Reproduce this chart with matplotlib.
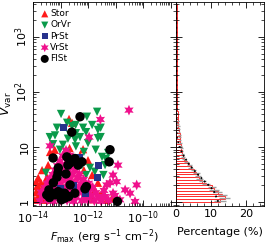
import numpy as np
import matplotlib
matplotlib.use("Agg")
import matplotlib.pyplot as plt
from matplotlib.ticker import LogLocator, MultipleLocator, NullFormatter

# scatter data, log10 values
# Stor (red triangles)
stor_lf = [-12.69, -12.67, -12.18, -13.21, -13.81, -13.88, -13.38, -12.58, -11.93, -11.75,
           -11.56, -11.82, -13.75, -13.82, -13.93, -13.60, -13.67, -13.45, -13.02, -12.84,
           -12.29, -12.00, -13.56, -13.89, -13.71, -13.49, -13.20, -11.64, -11.45, -11.31,
           -12.00, -12.36, -12.65, -12.95, -12.15, -11.85, -13.85, -13.64, -13.38, -11.13]
stor_lv = [1.51, 0.98, 0.96, 0.95, 0.44, 0.37, 0.91, 1.44, 0.31, 0.22,
           0.13, 0.05, 0.22, 0.09, 0.04, 0.31, 0.58, 0.67, 0.76, 0.91,
           0.85, 0.76, 0.04, 0.18, 0.35, 0.45, 0.55, 0.35, 0.18, 0.04,
           0.13, 0.49, 0.40, 0.31, 0.58, 0.49, 0.29, 0.13, 0.22, 0.07]

# OrVr (green down triangles)
orvr_lf = [-12.98, -12.04, -11.67, -12.45, -11.64, -11.64, -13.39, -13.20, -12.73, -12.44,
           -12.91, -12.44, -11.72, -11.54, -11.54, -11.44, -11.38, -12.76, -12.58, -12.18,
           -12.65, -12.29, -12.07, -12.47, -13.27, -11.49, -11.35, -12.22, -11.93, -11.75,
           -12.07, -11.27, -13.53, -12.80, -12.15, -13.02, -12.00, -11.85, -13.13]
orvr_lv = [1.60, 1.55, 1.64, 1.40, 1.31, 1.16, 1.18, 1.21, 1.15, 1.25,
           1.04, 1.01, 0.95, 1.35, 1.18, 0.49, 0.67, 1.44, 1.38, 1.35,
           1.22, 1.18, 1.27, 1.13, 1.05, 0.82, 0.78, 0.67, 0.62, 0.55,
           0.49, 0.89, 0.53, 0.91, 0.91, 0.95, 1.07, 1.40, 1.35]

# PrSt (navy squares)
prst_lf = [-12.88, -11.62, -11.66, -12.33, -12.55, -13.00, -12.10]
prst_lv = [1.35, 0.66, 0.45, 0.80, 0.30, 0.25, 0.15]

# VrSt (magenta stars)
vrst_lf = [-11.55, -10.51, -11.96, -13.38, -10.91, -10.96, -11.32, -10.23, -10.65, -10.47,
           -10.29, -11.45, -11.09, -11.20, -11.09, -10.84,
           -13.75, -13.48, -13.27, -12.98, -12.76, -12.52, -12.23, -12.01, -11.77, -11.52, -11.25,
           -13.66, -13.38, -13.16, -12.91, -12.63, -12.42, -12.13, -11.88, -11.63, -11.38, -11.02,
           -13.70, -13.44, -13.22, -12.93, -12.72, -12.46, -12.18, -11.97, -11.72, -11.42,
           -13.56, -13.28, -13.06, -12.78, -12.57, -12.31, -12.03, -11.83,
           -13.48, -13.23, -13.02, -12.74, -12.51, -12.26, -11.98,
           -13.41, -13.13, -12.88, -12.66, -12.38, -12.16,
           -13.28, -13.06, -12.79, -12.56, -12.32,
           -13.19, -12.96, -12.71, -12.47,
           -13.11, -12.84, -12.61,
           -13.02, -12.76, -12.52,
           -12.92, -12.66, -12.80]
vrst_lv = [1.50, 1.67, 1.18, 1.02, 0.67, 0.37, 0.31, 0.31, 0.22, 0.16,
           0.01, 0.10, 0.49, 0.35, 0.16, 0.04,
           0.02, 0.03, 0.01, 0.02, 0.03, 0.01, 0.02, 0.03, 0.02, 0.01, 0.03,
           0.10, 0.11, 0.09, 0.10, 0.11, 0.09, 0.10, 0.11, 0.09, 0.10, 0.12,
           0.18, 0.19, 0.17, 0.18, 0.19, 0.17, 0.18, 0.19, 0.17, 0.21,
           0.26, 0.27, 0.25, 0.26, 0.27, 0.25, 0.26, 0.27,
           0.34, 0.35, 0.33, 0.34, 0.35, 0.33, 0.34,
           0.42, 0.43, 0.41, 0.42, 0.43, 0.41,
           0.50, 0.51, 0.49, 0.50, 0.51,
           0.58, 0.59, 0.57, 0.58,
           0.66, 0.67, 0.65,
           0.74, 0.75, 0.73,
           0.84, 0.85, 0.94]

# FlSt (black circles)
flst_lf = [-12.29, -12.59, -11.20, -11.23, -12.22, -12.77, -12.65, -13.08, -13.26, -13.32,
           -13.50, -12.96, -12.84, -12.11, -10.93, -13.27, -12.73, -13.09, -13.09, -12.85,
           -12.97, -12.48, -12.06, -12.48, -13.20, -13.42, -12.65, -12.36, -13.13, -12.80,
           -13.40, -12.70]
flst_lv = [1.55, 1.27, 0.95, 0.73, 0.73, 0.82, 0.71, 0.62, 0.35, 0.16,
           0.13, 0.16, 0.07, 0.24, 0.01, 0.80, 0.67, 0.53, 0.19, 0.16,
           0.04, 0.16, 0.28, 0.79, 0.13, 0.22, 0.31, 0.67, 0.45, 0.51,
           0.08, 0.10]

# histogram of log Vvar, bins of 0.05 dex starting at Vvar = 1
bin_start = 0.0
bin_width = 0.05
hist_pct = [12.5, 13.8, 13.2, 11.8, 10.8, 10.2, 8.5, 7.4, 6.6, 6.2,
            5.8, 5.0, 4.2, 3.8, 3.0, 2.2, 2.0, 1.8, 1.6, 1.5,
            1.3, 1.2, 1.1, 1.0, 1.0, 0.9, 0.8, 0.7, 0.6, 0.6,
            0.5, 0.5, 0.5, 0.4, 0.4, 0.4, 0.4, 0.3, 0.3, 0.3,
            0.3, 0.3, 0.3, 0.3, 0.2, 0.3, 0.2, 0.3, 0.2, 0.3,
            0.2, 0.3, 0.2, 0.2, 0.3, 0.2, 0.2, 0.3, 0.2, 0.2,
            0.3, 0.2, 0.2, 0.2, 0.3, 0.2, 0.2, 0.2, 0.3, 0.2,
            0.2, 0.2]
hist_err = [1.6, 1.5, 1.4, 1.3, 1.3, 1.2, 1.1, 1.0, 1.0, 0.9,
            0.9, 0.8, 0.7, 0.7, 0.6, 0.5, 0.5, 0.5, 0.4, 0.4,
            0.4, 0.4, 0.3, 0.3, 0.3, 0.3, 0.3, 0.3, 0.2, 0.2]

# dotted comparison curve
model_lv = [0.005, 0.22, 0.37, 0.52, 0.70, 0.85, 0.98, 1.19, 1.5, 2.5, 3.64]
model_pct = [12.0, 10.6, 8.2, 5.9, 3.5, 2.1, 1.1, 0.2, 0.15, 0.1, 0.05]

fig = plt.figure(figsize=(2.66, 2.45), dpi=100)
ax1 = fig.add_axes([33 / 266, 1 - 206 / 245, 143 / 266, 204 / 245])
ax2 = fig.add_axes([176 / 266, 1 - 206 / 245, 88 / 266, 204 / 245], sharey=ax1)

series = [
    ("Stor", stor_lf, stor_lv, "^", "#ff1a1a", 36),
    ("OrVr", orvr_lf, orvr_lv, "v", "#0a9a4a", 36),
    ("VrSt", vrst_lf, vrst_lv, (6, 1, 0), "#f0108c", 60),
    ("PrSt", prst_lf, prst_lv, "s", "#27328c", 28),
    ("FlSt", flst_lf, flst_lv, "o", "black", 46),
]
handles = {}
for name, lf, lv, mk, col, size in series:
    handles[name] = ax1.scatter(10 ** np.array(lf), 10 ** np.array(lv), marker=mk, s=size,
                                c=col, edgecolors="none", label=name)

order = ["Stor", "OrVr", "PrSt", "VrSt", "FlSt"]
ax1.legend([handles[n] for n in order], order, loc="upper left", frameon=False,
           fontsize=6.5, handletextpad=0.1, labelspacing=0.25, borderaxespad=0.4,
           handlelength=1.0, scatterpoints=1, markerscale=0.85)

ax1.set_xscale("log")
ax1.set_yscale("log")
ax1.set_xlim(1e-14, 10 ** -8.8)
ax1.set_ylim(10 ** -0.073, 10 ** 3.636)
ax1.set_xticks([1e-14, 1e-13, 1e-12, 1e-11, 1e-10, 1e-9])
ax1.set_xticklabels([r"$10^{-14}$", "", r"$10^{-12}$", "", r"$10^{-10}$", ""])
ax1.xaxis.set_minor_locator(LogLocator(base=10, subs=np.arange(2, 10), numticks=20))
ax1.xaxis.set_minor_formatter(NullFormatter())
ax1.set_yticks([1, 10, 100, 1000])
ax1.set_yticklabels(["1", "10", r"$10^2$", r"$10^3$"], rotation=90, va="center")
ax1.yaxis.set_minor_locator(LogLocator(base=10, subs=np.arange(2, 10), numticks=20))
ax1.yaxis.set_minor_formatter(NullFormatter())
ax1.set_xlabel(r"$F_{\rm max}$ (erg s$^{-1}$ cm$^{-2}$)", fontsize=8)
ax1.xaxis.set_label_coords(0.5, -0.105)
ax1.set_ylabel(r"$V_{\rm var}$", fontsize=9)
ax1.yaxis.set_label_coords(-0.13, 0.5)

# histogram panel
lo = 10 ** (bin_start + bin_width * np.arange(len(hist_pct)))
hi = 10 ** (bin_start + bin_width * (np.arange(len(hist_pct)) + 1))
ax2.barh(lo, hist_pct, height=hi - lo, align="edge", fill=False,
         edgecolor="#ff3030", linewidth=0.7)
mid = np.sqrt(lo * hi)[:len(hist_err)]
pct = np.array(hist_pct[:len(hist_err)])
ax2.hlines(mid, pct - np.array(hist_err), pct + np.array(hist_err),
           colors="#a0a0a0", linewidth=1.0)
ax2.plot(model_pct, 10 ** np.array(model_lv), color="black", linestyle=":", linewidth=1.3)
ax2.set_xlim(0, 25)
ax2.set_xticks([0, 10, 20])
ax2.xaxis.set_minor_locator(MultipleLocator(2))
ax2.set_xlabel("Percentage (%)", fontsize=8)
ax2.xaxis.set_label_coords(0.5, -0.105)

for ax in (ax1, ax2):
    ax.tick_params(which="both", direction="in", top=True, right=True, labelsize=8, pad=2.5)
    ax.tick_params(which="major", length=4, width=0.6)
    ax.tick_params(which="minor", length=2, width=0.5)
    for sp in ax.spines.values():
        sp.set_linewidth(0.6)
ax2.tick_params(labelleft=False)

fig.savefig("out.png", dpi=100)
